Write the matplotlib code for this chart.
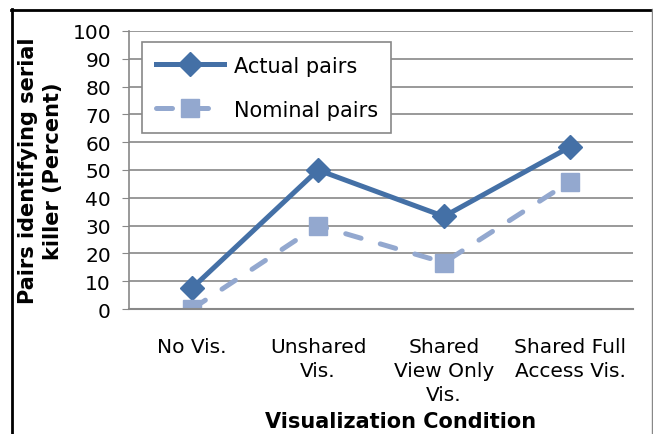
import matplotlib.pyplot as plt
from matplotlib.lines import Line2D

categories = ["No Vis.", "Unshared\nVis.", "Shared\nView Only\nVis.", "Shared Full\nAccess Vis."]
actual = [7.5, 50, 33.3, 58.3]
nominal = [0, 30, 16.7, 45.8]
yticks = list(range(0, 101, 10))

plt.rcParams['font.family'] = ['DejaVu Sans']
fig = plt.figure(figsize=(6.53, 4.35), dpi=100)
ax = fig.add_axes([129/653, 1 - 310/435, 504/653, 278/435])

x = range(len(categories))
ax.plot(x, actual, color="#4470a6", lw=3.6, marker="D", ms=12, label="Actual pairs")
ax.plot(x, nominal, color="#93a8cf", lw=3.6, ls=(0, (3.2, 4.0)), dash_capstyle="round",
        marker="s", ms=12.5, label="Nominal pairs")

ax.set_xlim(-0.5, 3.5)
ax.set_ylim(0, 100)
ax.set_yticks(yticks)
ax.set_xticks(list(x))
ax.set_xticklabels(categories, fontsize=14.5, linespacing=1.35)
ax.tick_params(axis="y", labelsize=14.5, length=5, color="#888888", pad=8)
ax.tick_params(axis="x", length=0, pad=20)
ax.yaxis.grid(True, color="#888888", lw=1.2)
ax.set_axisbelow(True)
for s in ["top", "right"]:
    ax.spines[s].set_visible(False)
ax.spines["left"].set_color("#888888")
ax.spines["bottom"].set_color("#888888")
ax.spines["left"].set_linewidth(1.2)
ax.spines["bottom"].set_linewidth(1.5)

ax.set_ylabel("Pairs identifying serial\nkiller (Percent)", fontsize=15, fontweight="bold",
              linespacing=1.3)
ax.yaxis.set_label_coords(-0.131, 0.5)
fig.text(401/653, 1 - 422/435, "Visualization Condition", fontsize=15, fontweight="bold",
         ha="center", va="center")

leg = ax.legend(loc="upper left", bbox_to_anchor=(0.026, 0.96), borderaxespad=0,
                fontsize=15, handlelength=3.3, labelspacing=1.15, fancybox=False,
                framealpha=1, edgecolor="#888888", borderpad=0.65, handletextpad=0.45)
leg.get_frame().set_linewidth(1.2)

# outer border
fig.add_artist(Line2D([11.5/653, 11.5/653], [0, 1 - 10/435], color="black", lw=2))
fig.add_artist(Line2D([11/653, 652/653], [1 - 10.5/435, 1 - 10.5/435], color="black", lw=2))
fig.add_artist(Line2D([651.5/653, 651.5/653], [0, 1 - 10/435], color="#888888", lw=1))

fig.savefig("out.png", dpi=100)
